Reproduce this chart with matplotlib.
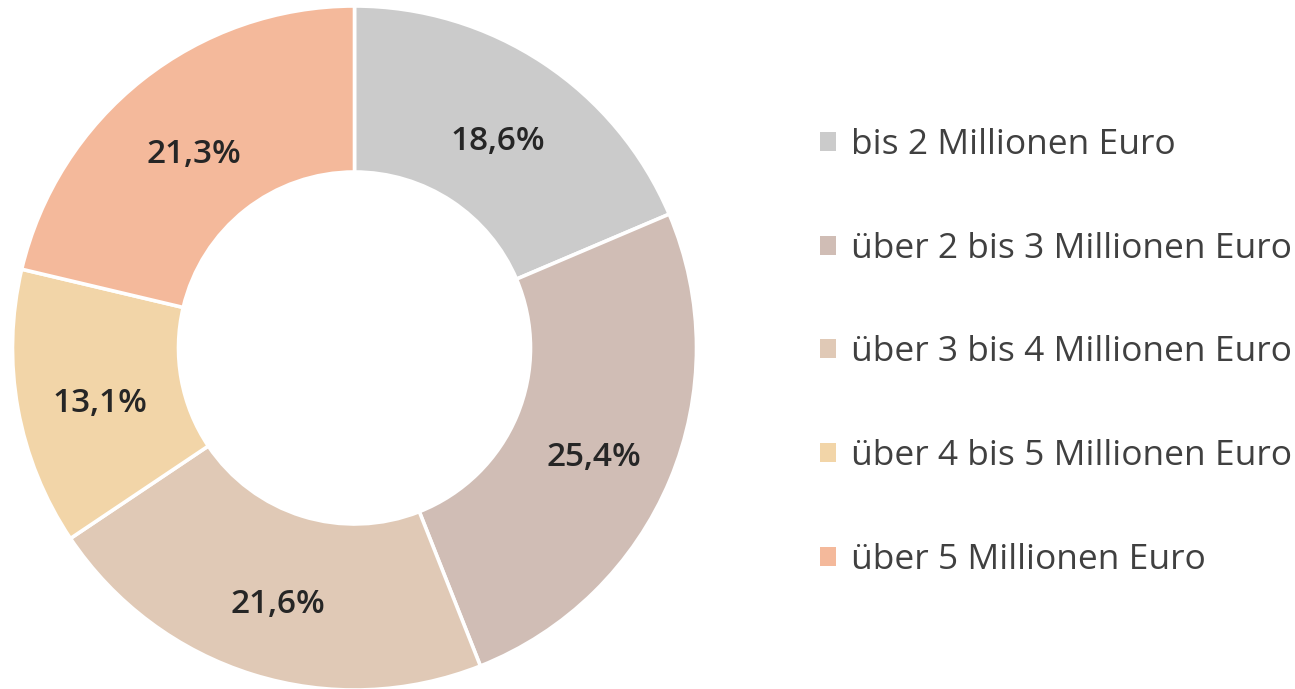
import matplotlib
matplotlib.use("Agg")
import matplotlib.pyplot as plt
import numpy as np

categories = ["bis 2 Millionen Euro", "über 2 bis 3 Millionen Euro",
              "über 3 bis 4 Millionen Euro", "über 4 bis 5 Millionen Euro",
              "über 5 Millionen Euro"]
values = [18.6, 25.4, 21.6, 13.1, 21.3]
colors = ["#CBCBCB", "#D0BDB5", "#E0C9B6", "#F2D5A8", "#F4B99B"]

plt.rcParams['font.family'] = ['Open Sans', 'DejaVu Sans']

W, H = 1295, 689
fig = plt.figure(figsize=(W / 100, H / 100), dpi=100)
ax = fig.add_axes([0, 0, 1, 1])

cx, cy = 354.5, H - 348
R = 342
ring = 166
wedges, _ = ax.pie(values, colors=colors, startangle=90, counterclock=False,
                   center=(cx, cy), radius=R,
                   wedgeprops=dict(width=ring, edgecolor="white", linewidth=2.6))
ax.set_aspect('auto')
ax.set_xlim(0, W)
ax.set_ylim(0, H)
ax.axis('off')

theta = 90.0
r_lab = 259
lab_fs = 24
for v in values:
    mid = np.deg2rad(theta - v * 3.6 / 2)
    ax.text(cx + r_lab * np.cos(mid), cy - 18 + r_lab * np.sin(mid),
            f"{v:.1f}%".replace('.', ','), ha='center', va='baseline',
            fontsize=lab_fs, fontweight='semibold', color='#262626')
    theta -= v * 3.6

fs = 25.5
leg = ax.legend(wedges, categories, loc='center left',
                bbox_to_anchor=(820 / W, 1 - 352.5 / H), bbox_transform=fig.transFigure,
                frameon=False, fontsize=fs, labelspacing=1.97,
                handlelength=0.45, handleheight=0.45, handletextpad=0.42,
                borderpad=0, borderaxespad=0, labelcolor='#404040')
for h in leg.legend_handles:
    h.set_linewidth(0)

fig.savefig("out.png", dpi=100, facecolor='white')
